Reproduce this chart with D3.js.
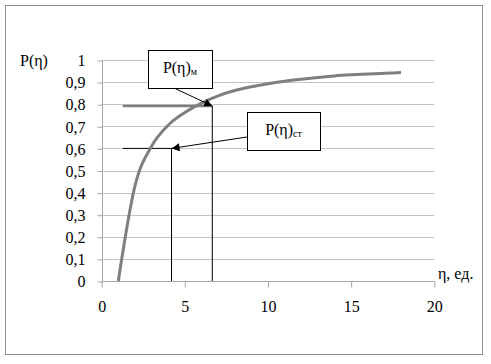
<!DOCTYPE html>
<html>
<head>
<meta charset="utf-8">
<script src="https://d3js.org/d3.v7.min.js"></script>
</head>
<body style="margin:0; background:#fff">
<svg id="chart" width="491" height="364"></svg>
<script>
// curve P(eta)
const eta = [1, 2, 3, 4, 5, 6, 7, 8, 9, 10, 11, 12, 13, 14, 15, 16, 17, 18];
const prob = [0, 0.43, 0.61, 0.705, 0.762, 0.805, 0.838, 0.862, 0.879, 0.893, 0.904, 0.913, 0.921, 0.928, 0.933, 0.937, 0.940, 0.943];

const xTicks = [0, 5, 10, 15, 20];
const yTicks = [0, 0.1, 0.2, 0.3, 0.4, 0.5, 0.6, 0.7, 0.8, 0.9, 1];

// marked levels: P(eta)m and P(eta)st
const levelM = { p: 0.792, eta: 6.65, from: 1.26 };
const levelSt = { p: 0.6, eta: 4.2, from: 1.26 };

const FONT = "'Liberation Serif', 'Times New Roman', serif";
const svg = d3.select("#chart");

// outer frame
svg.append("rect").attr("x", 5.5).attr("y", 5.5).attr("width", 477).attr("height", 349)
  .attr("fill", "#fff").attr("stroke", "#8c8c8c").attr("stroke-width", 1);

const x = d3.scaleLinear([0, 20], [101.7, 434.3]);
const y = d3.scaleLinear([0, 1], [281, 60]);
const fmt = d => d === 0 || d === 1 ? String(d) : d3.format(".1f")(d).replace(".", ",");

// gridlines
svg.append("g").selectAll("line").data(yTicks.filter(d => d > 0)).join("line")
  .attr("x1", x(0)).attr("x2", x(20))
  .attr("y1", d => Math.round(y(d)) + 0.5).attr("y2", d => Math.round(y(d)) + 0.5)
  .attr("stroke", "#c4c4c4").attr("stroke-width", 1);

// y axis
const yAxis = svg.append("g").attr("transform", "translate(" + (Math.round(x(0)) + 0.5) + ",0)")
  .call(d3.axisLeft(y).tickValues(yTicks).tickFormat(fmt).tickSize(5).tickPadding(12));
yAxis.select(".domain").attr("stroke", "#a6a6a6").attr("d", "M0," + y(1) + "V" + y(0));
yAxis.selectAll(".tick line").attr("stroke", "#a6a6a6").attr("transform", "translate(0,0.5)");
yAxis.selectAll("text").attr("dy", "0.36em");

// x axis
const xAxis = svg.append("g").attr("transform", "translate(0," + (Math.round(y(0)) + 0.5) + ")")
  .call(d3.axisBottom(x).tickValues(xTicks).tickSize(6).tickPadding(13));
xAxis.select(".domain").attr("stroke", "#a6a6a6").attr("d", "M" + x(0) + ",0H" + x(20));
xAxis.selectAll(".tick line").attr("stroke", "#a6a6a6");

// axis titles
svg.append("text").attr("x", 20).attr("y", 66).text("P(η)");
svg.append("text").attr("x", 438).attr("y", 279).text("η, ед.");

// marker lines
svg.append("line").attr("x1", x(levelM.from)).attr("x2", x(levelM.eta))
  .attr("y1", y(levelM.p)).attr("y2", y(levelM.p))
  .attr("stroke", "#7f7f7f").attr("stroke-width", 2.5);
svg.append("line").attr("x1", x(levelM.eta)).attr("x2", x(levelM.eta))
  .attr("y1", y(levelM.p)).attr("y2", y(0)).attr("stroke", "#000").attr("stroke-width", 1);
svg.append("line").attr("x1", x(levelSt.from)).attr("x2", x(levelSt.eta))
  .attr("y1", y(levelSt.p)).attr("y2", y(levelSt.p)).attr("stroke", "#000").attr("stroke-width", 1);
svg.append("line").attr("x1", x(levelSt.eta)).attr("x2", x(levelSt.eta))
  .attr("y1", y(levelSt.p)).attr("y2", y(0)).attr("stroke", "#000").attr("stroke-width", 1);

// curve
const pts = eta.map((e, i) => [e, prob[i]]);
svg.append("path").datum(pts)
  .attr("d", d3.line().x(d => x(d[0])).y(d => y(d[1])).curve(d3.curveMonotoneX))
  .attr("fill", "none").attr("stroke", "#7f7f7f").attr("stroke-width", 3);

// arrowhead marker
svg.append("defs").append("marker").attr("id", "arr")
  .attr("viewBox", "0 0 10 10").attr("refX", 10).attr("refY", 5)
  .attr("markerWidth", 9).attr("markerHeight", 8).attr("markerUnits", "userSpaceOnUse")
  .attr("orient", "auto")
  .append("path").attr("d", "M0,0L10,5L0,10z").attr("fill", "#000");

// callouts
function callout(bx, by, bw, bh, sub, sx, sy, level) {
  svg.append("line").attr("x1", sx).attr("y1", sy)
    .attr("x2", x(level.eta)).attr("y2", y(level.p))
    .attr("stroke", "#000").attr("stroke-width", 1).attr("marker-end", "url(#arr)");
  svg.append("rect").attr("x", bx + 0.5).attr("y", by + 0.5).attr("width", bw).attr("height", bh)
    .attr("fill", "#fff").attr("stroke", "#000").attr("stroke-width", 1);
  const t = svg.append("text").attr("x", bx + bw / 2).attr("y", by + 23)
    .attr("text-anchor", "middle");
  t.append("tspan").text("P(η)");
  t.append("tspan").attr("class", "sub").attr("dy", 1.5).text(sub);
}
callout(148, 50, 64, 38, "м", 175, 88.5, levelM);
callout(247, 112, 73, 38, "ст", 247, 137, levelSt);

// one font for every label
svg.selectAll("g").attr("font-family", null).attr("font-size", null);
svg.selectAll("text").style("font-family", FONT).style("font-size", "16px").attr("fill", "#000");
svg.selectAll("tspan").style("font-family", FONT);
svg.selectAll("tspan.sub").style("font-size", "10px");
</script>
</body>
</html>
